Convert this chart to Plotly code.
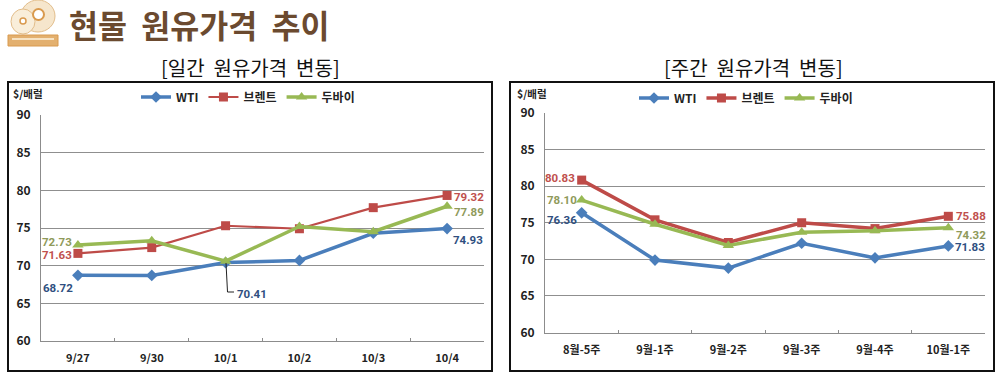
import plotly.graph_objects as go

W, H = 1007, 382
FONT = "Noto Sans CJK KR"

# data
days = ["9/27", "9/30", "10/1", "10/2", "10/3", "10/4"]
d_wti = [68.72, 68.70, 70.41, 70.70, 74.30, 74.93]
d_brent = [71.63, 72.40, 75.30, 74.90, 77.70, 79.32]
d_dubai = [72.73, 73.30, 70.60, 75.20, 74.50, 77.89]

weeks = ["8월-5주", "9월-1주", "9월-2주", "9월-3주", "9월-4주", "10월-1주"]
w_wti = [76.36, 69.90, 68.80, 72.20, 70.20, 71.83]
w_brent = [80.83, 75.40, 72.30, 75.00, 74.20, 75.88]
w_dubai = [78.10, 74.80, 71.90, 73.70, 73.90, 74.32]

series_names = ["WTI", "브렌트", "두바이"]
colors = ["#4a7ebb", "#be4b48", "#98b954"]
label_colors = ["#2f4f7f", "#c0504d", "#8f9a5a"]
symbols = ["diamond", "square", "triangle-up"]
y_ticks = [60, 65, 70, 75, 80, 85, 90]


def px(x):
    return x / W


def py(y):
    return 1 - y / H


fig = go.Figure()


def add_panel(cats, vals, xa, ya, legend, widths):
    for k, v in enumerate(vals):
        fig.add_trace(go.Scatter(
            x=cats, y=v, name=series_names[k], mode="lines+markers",
            xaxis=xa, yaxis=ya, legend=legend, cliponaxis=False,
            line=dict(color=colors[k], width=widths[k]),
            marker=dict(color=colors[k], symbol=symbols[k], size=9 if k != 2 else 10),
        ))


add_panel(days, [d_wti, d_brent, d_dubai], "x", "y", "legend", [3.5, 2.2, 3.5])
add_panel(weeks, [w_wti, w_brent, w_dubai], "x2", "y2", "legend2", [3.5, 3.5, 3.5])

axis_x = dict(type="category", range=[-0.5, 5.5], showgrid=False, showline=True,
              linecolor="#8c8c8c", linewidth=1, ticks="inside", ticklen=3,
              tickcolor="#8c8c8c", tickson="boundaries", ticklabelstandoff=7,
              tickfont=dict(family=FONT, size=11, color="#222", weight="bold"))
axis_y = dict(range=[60, 90], tickvals=y_ticks, showgrid=True, gridcolor="#8f8f8f",
              gridwidth=1, showline=True, linecolor="#8c8c8c", linewidth=1,
              ticks="", zeroline=False, ticklabelstandoff=7,
              tickfont=dict(family=FONT, size=12, color="#222", weight="bold"))

legend_common = dict(orientation="h", xanchor="center", yanchor="middle", itemwidth=30,
                     font=dict(family=FONT, size=12, color="#222", weight="bold"),
                     bgcolor="rgba(0,0,0,0)", itemclick=False, tracegroupgap=0)

fig.update_layout(
    width=W, height=H, autosize=False,
    margin=dict(l=0, r=0, t=0, b=0, autoexpand=False),
    paper_bgcolor="white", plot_bgcolor="white", showlegend=True,
    font=dict(family=FONT),
    xaxis=dict(axis_x, domain=[px(41), px(484)], anchor="y"),
    yaxis=dict(axis_y, domain=[py(341), py(115)], anchor="x"),
    xaxis2=dict(axis_x, domain=[px(545), px(985)], anchor="y2"),
    yaxis2=dict(axis_y, domain=[py(332.5), py(113)], anchor="x2"),
    legend=dict(legend_common, x=px(248), y=py(97)),
    legend2=dict(legend_common, x=px(746), y=py(98)),
)

# frames
for x0, x1 in [(8, 492), (510, 994)]:
    fig.add_shape(type="rect", xref="paper", yref="paper", x0=px(x0), x1=px(x1),
                  y0=py(371), y1=py(82), line=dict(color="#111", width=2), layer="below")

# icon
fig.add_shape(type="circle", xref="paper", yref="paper", x0=px(21), x1=px(55), y0=py(32), y1=py(0),
              fillcolor="#f6e6cc", line=dict(color="#e2bd8a", width=1))
fig.add_shape(type="circle", xref="paper", yref="paper", x0=px(11), x1=px(35), y0=py(34), y1=py(9),
              fillcolor="#f9eeda", line=dict(color="#e2bd8a", width=1))
fig.add_shape(type="circle", xref="paper", yref="paper", x0=px(33), x1=px(44), y0=py(20), y1=py(9),
              fillcolor="white", line=dict(color="#d99a4e", width=2))
fig.add_shape(type="circle", xref="paper", yref="paper", x0=px(20), x1=px(26), y0=py(24), y1=py(18),
              fillcolor="white", line=dict(color="#d99a4e", width=1.5))
fig.add_shape(type="rect", xref="paper", yref="paper", x0=px(8), x1=px(58), y0=py(46), y1=py(35),
              fillcolor="#e3b06f", line=dict(color="#d99a4e", width=1))
fig.add_shape(type="rect", xref="paper", yref="paper", x0=px(12), x1=px(54), y0=py(40), y1=py(38),
              fillcolor="#f7e3c4", line=dict(width=0))

# 70.41 leader
fig.add_shape(type="line", xref="paper", yref="paper", x0=px(226), x1=px(227.5), y0=py(263), y1=py(292),
              line=dict(color="#222", width=1))
fig.add_shape(type="line", xref="paper", yref="paper", x0=px(227.5), x1=px(234), y0=py(292), y1=py(292),
              line=dict(color="#222", width=1))


def text(x, y, s, size, color, bold=False, anchor="center"):
    fig.add_annotation(xref="paper", yref="paper", x=px(x), y=py(y), text=f"<b>{s}</b>" if bold else s,
                       showarrow=False, xanchor=anchor, yanchor="middle",
                       font=dict(family=FONT, size=size, color=color))


text(67, 24, "현물  원유가격  추이", 31.5, "#6b4a2f", True, "left")
text(250, 68, "[일간  원유가격  변동]", 20, "#111")
text(753, 68, "[주간  원유가격  변동]", 20, "#111")
text(11, 93, "$/배럴", 10.5, "#222", True, "left")
text(515, 93, "$/배럴", 10.5, "#222", True, "left")


def val_label(xa, ya, cat, val, k, dx, dy, anchor="center", size=11.5):
    fig.add_annotation(xref=xa, yref=ya, x=cat, y=val, text=f"<b>{val:.2f}</b>", showarrow=False,
                       xshift=dx, yshift=dy, xanchor=anchor, yanchor="middle",
                       font=dict(family="Roboto", size=size, color=label_colors[k]))


val_label("x", "y", days[0], d_dubai[0], 2, -4, 3, "right")
val_label("x", "y", days[0], d_brent[0], 1, -4, -2, "right")
val_label("x", "y", days[0], d_wti[0], 0, -3, -13, "right")
val_label("x", "y", days[2], d_wti[2], 0, 9, -31, "left")
val_label("x", "y", days[5], d_brent[5], 1, 5, -2, "left")
val_label("x", "y", days[5], d_dubai[5], 2, 5, -6, "left")
val_label("x", "y", days[5], d_wti[5], 0, 4, -11, "left")

val_label("x2", "y2", weeks[0], w_brent[0], 1, -5, 2, "right")
val_label("x2", "y2", weeks[0], w_dubai[0], 2, -3, 0, "right")
val_label("x2", "y2", weeks[0], w_wti[0], 0, -3, -7, "right")
val_label("x2", "y2", weeks[5], w_brent[5], 1, 6, 0, "left")
val_label("x2", "y2", weeks[5], w_dubai[5], 2, 6, -7, "left")
val_label("x2", "y2", weeks[5], w_wti[5], 0, 5, -1, "left")

fig.write_html("out.html", post_script="document.body.style.margin='0';",
               config={"displayModeBar": False})
